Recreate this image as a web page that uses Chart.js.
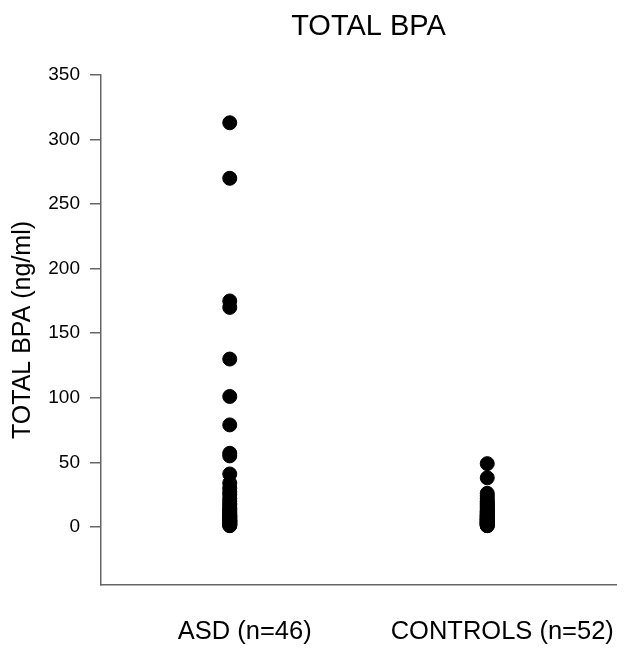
<!DOCTYPE html>
<html>
<head>
<meta charset="utf-8">
<script src="https://cdn.jsdelivr.net/npm/chart.js@4.4.1/dist/chart.umd.min.js"></script>
<style>
  html, body { margin: 0; padding: 0; background: #fff; }
  #wrap { width: 624px; height: 653px; }
</style>
</head>
<body>
<div id="wrap"><canvas id="chart"></canvas></div>
<script>
// ---------- Data ----------
const groups = ["ASD (n=46)", "CONTROLS (n=52)"];
const asdValues = [313, 270, 175, 170, 130, 101, 79, 57, 55,
  41, 34, 30, 27, 25, 22, 20, 18, 17, 15, 14, 13, 12, 11, 10,
  9, 9, 8, 8, 7, 7, 6, 6, 5, 5, 5, 4, 4, 4, 3, 3, 3, 2, 2, 2, 1, 1];
const controlValues = [49, 38,
  26, 24, 22, 20, 19, 18, 17, 16, 15, 14, 13, 12, 12, 11, 11, 10, 10,
  9, 9, 9, 8, 8, 8, 7, 7, 7, 6, 6, 6, 6, 5, 5, 5, 5, 4, 4, 4, 4,
  3, 3, 3, 3, 3, 2, 2, 2, 2, 1, 1, 1];
const yTicks = [0, 50, 100, 150, 200, 250, 300, 350];

const font = "'Liberation Sans', Arial, sans-serif";

// title sits over the plot area (a bit right of it), not the whole canvas
const plotTitle = {
  id: "plotTitle",
  afterDraw(chart) {
    const { ctx, chartArea } = chart;
    ctx.save();
    ctx.fillStyle = "#000";
    ctx.font = `29px ${font}`;
    ctx.textAlign = "center";
    ctx.textBaseline = "middle";
    ctx.fillText("TOTAL BPA", (chartArea.left + chartArea.right) / 2 + 10, 27);
    ctx.restore();
  }
};

const toPoints = (vals, x) => vals.map(v => ({ x, y: v }));

new Chart(document.getElementById("chart"), {
  type: "scatter",
  data: {
    datasets: [
      { data: toPoints(asdValues, 1), backgroundColor: "#000", borderColor: "#000", pointRadius: 7, pointHoverRadius: 7 },
      { data: toPoints(controlValues, 2), backgroundColor: "#000", borderColor: "#000", pointRadius: 7, pointHoverRadius: 7 }
    ]
  },
  options: {
    responsive: true,
    maintainAspectRatio: false,
    animation: false,
    layout: { padding: { top: 75, right: 6, left: 0, bottom: 0 } },
    plugins: { legend: { display: false }, tooltip: { enabled: false } },
    scales: {
      x: {
        type: "linear",
        min: 0.5,
        max: 2.5,
        afterBuildTicks: axis => { axis.ticks = [{ value: 1 }, { value: 2 }]; },
        afterFit: axis => {
          axis.height = 68;
          axis.paddingLeft = 0;
          axis.paddingRight = 0;
        },
        ticks: {
          color: "#000",
          font: { family: font, size: 25.5 },
          padding: 32,
          labelOffset: 15,
          maxRotation: 0,
          callback: v => groups[v - 1]
        },
        grid: { display: false, drawTicks: false },
        border: { display: true, color: "#666", width: 1.5 }
      },
      y: {
        min: -45,
        max: 350,
        afterBuildTicks: axis => { axis.ticks = yTicks.map(v => ({ value: v })); },
        afterFit: axis => { axis.width = 101; },
        ticks: { color: "#000", font: { family: font, size: 19 }, padding: 10 },
        grid: { drawOnChartArea: false, drawTicks: true, tickLength: 11, color: "#666", lineWidth: 1.5 },
        border: { display: true, color: "#666", width: 1.5 },
        title: { display: true, text: "TOTAL BPA (ng/ml)", color: "#000", font: { family: font, size: 25 }, padding: { top: 8, bottom: 0 } }
      }
    }
  },
  plugins: [plotTitle]
});
</script>
</body>
</html>
